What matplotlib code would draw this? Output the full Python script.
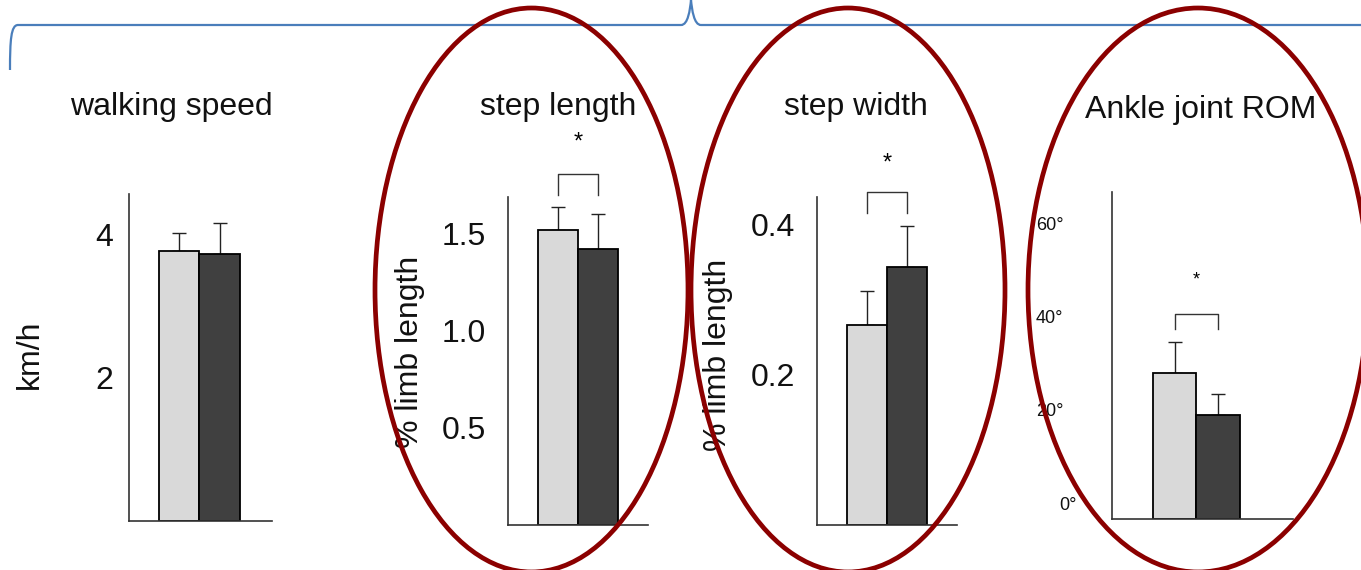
import numpy as np
import matplotlib
matplotlib.use('Agg')
import matplotlib.pyplot as plt
from matplotlib.patches import Ellipse, PathPatch
from matplotlib.path import Path
from matplotlib.transforms import ScaledTranslation

plt.rcParams['font.family'] = ['Liberation Sans', 'DejaVu Sans']

# the data
titles = ['walking speed', 'step length', 'step width', 'Ankle joint ROM']
ylabels = ['km/h', '% limb length', '% limb length', '']
groups = ['group 1', 'group 2']
speed = [3.78, 3.73]
speed_err = [0.25, 0.44]
step_len = [1.52, 1.42]
step_len_err = [0.12, 0.18]
step_wid = [0.267, 0.344]
step_wid_err = [0.045, 0.055]
ankle_rom = [31.3, 22.3]
ankle_rom_err = [6.6, 4.5]
yticks = [[2, 4], [0.5, 1.0, 1.5], [0.2, 0.4], [0, 20, 40, 60]]
yticklabels = [['2', '4'], ['0.5', '1.0', '1.5'], ['0.2', '0.4'], ['0°', '20°', '40°', '60°']]

values = [speed, step_len, step_wid, ankle_rom]
errors = [speed_err, step_len_err, step_wid_err, ankle_rom_err]
significant = [False, True, True, True]

W, H = 1361, 570
fig = plt.figure(figsize=(W / 100, H / 100), dpi=100)

def px_axes(left, right, top, bottom):
    return fig.add_axes([left / W, 1 - bottom / H, (right - left) / W, (bottom - top) / H])

# axes boxes in pixels (left, right, top, bottom)
boxes = [(129, 272, 194, 521), (508, 648, 197, 525), (817, 957, 197, 525), (1112, 1293, 192, 519)]
xlims = [(-1.24, 2.29), (-1.25, 2.25), (-1.25, 2.25), (-1.44, 2.72)]
ylims = [(0, 4.57), (0, 1.69), (0, 0.437), (0, 70.1)]
pads = [11.5, 16, 16, 35]
tick_sizes = [23, 23, 23, 13]
bracket = [None, (1.81, 1.70), (0.443, 0.416), (43.9, 40.7)]
star_y = [None, 1.97, 0.482, 51.2]
star_size = [None, 17, 17, 13]

colors = ['#d9d9d9', '#404040']
x = np.arange(len(groups))

for i in range(4):
    ax = px_axes(*boxes[i])
    ax.bar(x, values[i], width=1.0, color=colors, edgecolor='black', linewidth=1.3, zorder=2)
    ax.errorbar(x, values[i], yerr=[np.zeros(2), errors[i]], fmt='none', ecolor='#222222',
                elinewidth=1.0, capsize=5, capthick=1.0, zorder=1)
    ax.set_xlim(*xlims[i])
    ax.set_ylim(*ylims[i])
    ax.set_xticks([])
    ax.set_yticks(yticks[i])
    ax.set_yticklabels(yticklabels[i])
    ax.tick_params(axis='y', length=0, pad=pads[i], labelsize=tick_sizes[i], labelcolor='#111111')
    for s in ['top', 'right']:
        ax.spines[s].set_visible(False)
    for s in ['left', 'bottom']:
        ax.spines[s].set_color('#333333')
        ax.spines[s].set_linewidth(1.2)
    if significant[i]:
        y1, y0 = bracket[i]
        ax.plot([0, 0, 1, 1], [y0, y1, y1, y0], color='#333333', lw=1.0, clip_on=False)
        ax.text(0.5, star_y[i], '*', ha='center', va='center', fontsize=star_size[i], clip_on=False)
    if i == 3:
        # tick labels of the ROM panel sit higher than the ticks
        for lab in ax.get_yticklabels():
            lab.set_transform(lab.get_transform() + ScaledTranslation(0, 0.16, fig.dpi_scale_trans))
        zero = ax.get_yticklabels()[0]
        zero.set_transform(zero.get_transform() + ScaledTranslation(0.13, 0, fig.dpi_scale_trans))

# titles and axis labels
title_pos = [(171, 107), (558, 107), (856, 107), (1201, 110)]
for t, (tx, ty) in zip(titles, title_pos):
    fig.text(tx / W, 1 - ty / H, t, ha='center', va='center', fontsize=23, color='#111111')
ylabel_pos = [(30, 354), (410, 352), (718, 355)]
for t, (tx, ty) in zip(ylabels[:3], ylabel_pos):
    fig.text(tx / W, 1 - ty / H, t, ha='center', va='center', rotation=90, fontsize=23, color='#111111')

# overlay: brace on top and red ellipses
over = fig.add_axes([0, 0, 1, 1], zorder=10)
over.set_xlim(0, W)
over.set_ylim(H, 0)
over.axis('off')
over.patch.set_alpha(0)

verts = [(10, 70), (10, 40), (11, 25), (18, 25),
         (681, 25),
         (688, 25), (690, 10), (691, 0),
         (692, 10), (694, 25), (701, 25),
         (1361, 25)]
codes = [Path.MOVETO, Path.CURVE4, Path.CURVE4, Path.CURVE4,
         Path.LINETO,
         Path.CURVE4, Path.CURVE4, Path.CURVE4,
         Path.CURVE4, Path.CURVE4, Path.CURVE4,
         Path.LINETO]
over.add_patch(PathPatch(Path(verts, codes), fill=False, edgecolor='#4a7ebb', lw=1.6))

for cx, w in [(531.5, 313), (848, 314), (1198, 340)]:
    over.add_patch(Ellipse((cx, 290), w, 564, fill=False, edgecolor='#8b0000', lw=3.4))

fig.savefig('out.png', dpi=100)
